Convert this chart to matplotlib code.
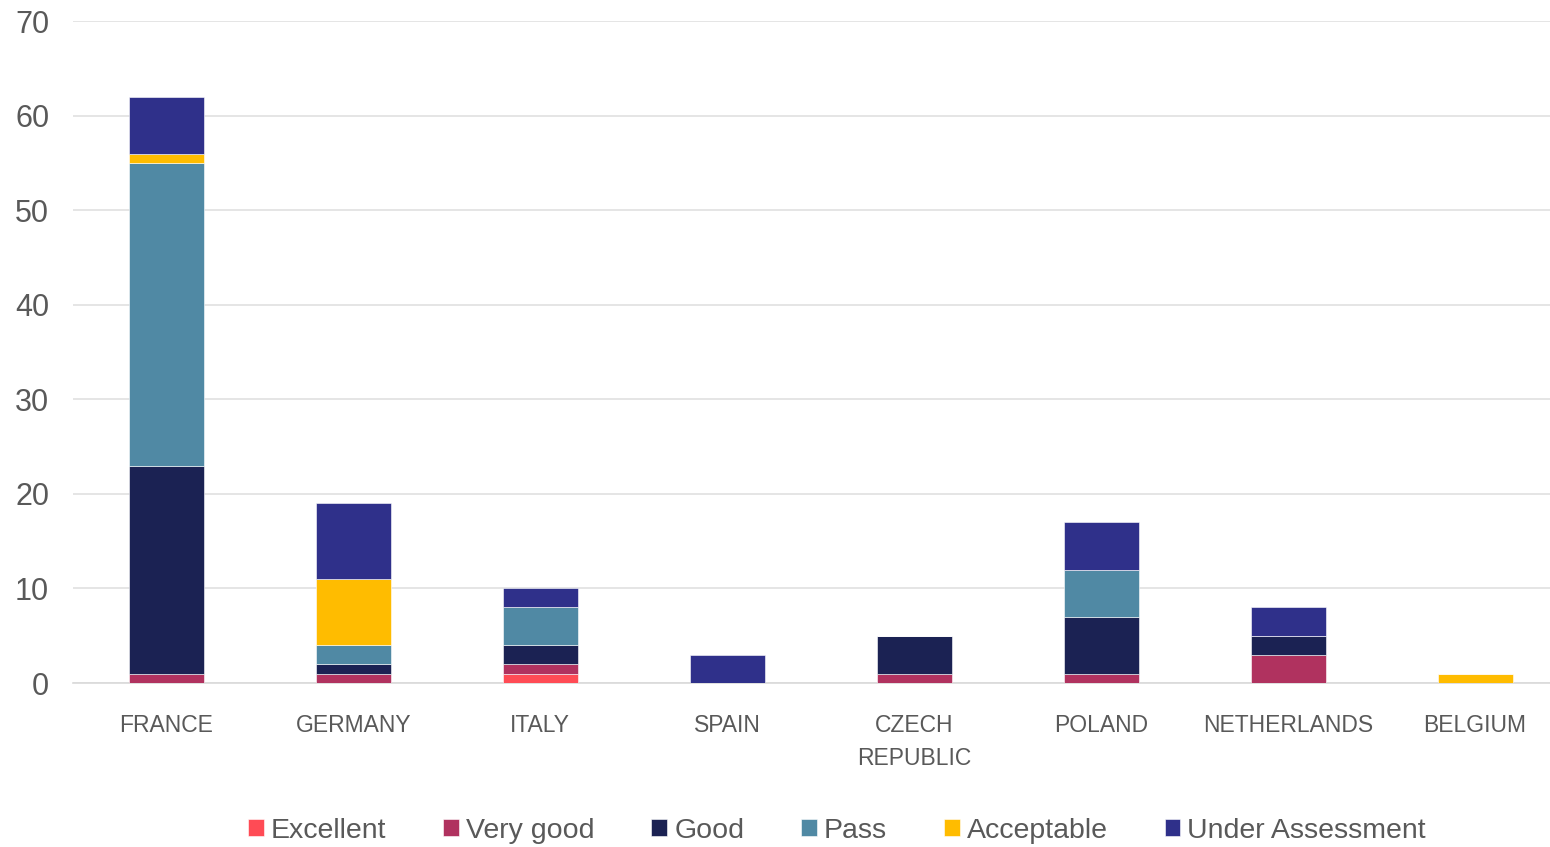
import matplotlib.pyplot as plt
import numpy as np

countries = ['FRANCE', 'GERMANY', 'ITALY', 'SPAIN', 'CZECH\nREPUBLIC',
             'POLAND', 'NETHERLANDS', 'BELGIUM']

excellent = [0, 0, 1, 0, 0, 0, 0, 0]
very_good = [1, 1, 1, 0, 1, 1, 3, 0]
good = [22, 1, 2, 0, 4, 6, 2, 0]
pass_ = [32, 2, 4, 0, 0, 5, 0, 0]
acceptable = [1, 7, 0, 0, 0, 0, 0, 1]
under_assessment = [6, 8, 2, 3, 0, 5, 3, 0]

series = [
    ('Excellent', excellent, '#FF4B55'),
    ('Very good', very_good, '#B0325F'),
    ('Good', good, '#1B2253'),
    ('Pass', pass_, '#5089A4'),
    ('Acceptable', acceptable, '#FFBC00'),
    ('Under Assessment', under_assessment, '#2F308A'),
]

plt.rcParams['font.family'] = ['Liberation Sans', 'DejaVu Sans']
text_color = '#595959'

fig = plt.figure(figsize=(15.5, 8.47), dpi=100)
# plot area runs a little past the right edge of the figure
ax = fig.add_axes([0.047, 0.1936, 0.965, 0.7814])

x = np.arange(len(countries))
bottom = np.zeros(len(countries))
for name, vals, color in series:
    vals = np.array(vals, dtype=float)
    ax.bar(x, vals, 0.4, bottom=bottom, color=color, label=name,
           edgecolor='white', linewidth=0.4, zorder=3)
    bottom += vals

ax.set_xlim(-0.5, len(countries) - 0.5)
ax.set_ylim(0, 70)
ax.set_yticks(range(0, 71, 10))
ax.grid(axis='y', color='#E0E0E0', linewidth=1.2, zorder=0)
for s in ['top', 'right', 'left']:
    ax.spines[s].set_visible(False)
ax.spines['bottom'].set_color('#D9D9D9')
ax.spines['bottom'].set_linewidth(1.2)
ax.tick_params(length=0)
ax.tick_params(axis='y', labelsize=22, labelcolor=text_color, pad=17)
ax.tick_params(axis='x', labelsize=16.5, labelcolor=text_color, pad=22)
ax.set_xticks(x)
ax.set_xticklabels(countries, linespacing=1.6)

leg = fig.legend(loc='center', bbox_to_anchor=(0.54, 0.019), ncol=6,
                 frameon=False, handlelength=0.55, handleheight=0.55,
                 handletextpad=0.25, columnspacing=2.0,
                 prop={'size': 20.5})
for t in leg.get_texts():
    t.set_color(text_color)

fig.savefig('out.png', dpi=100)
